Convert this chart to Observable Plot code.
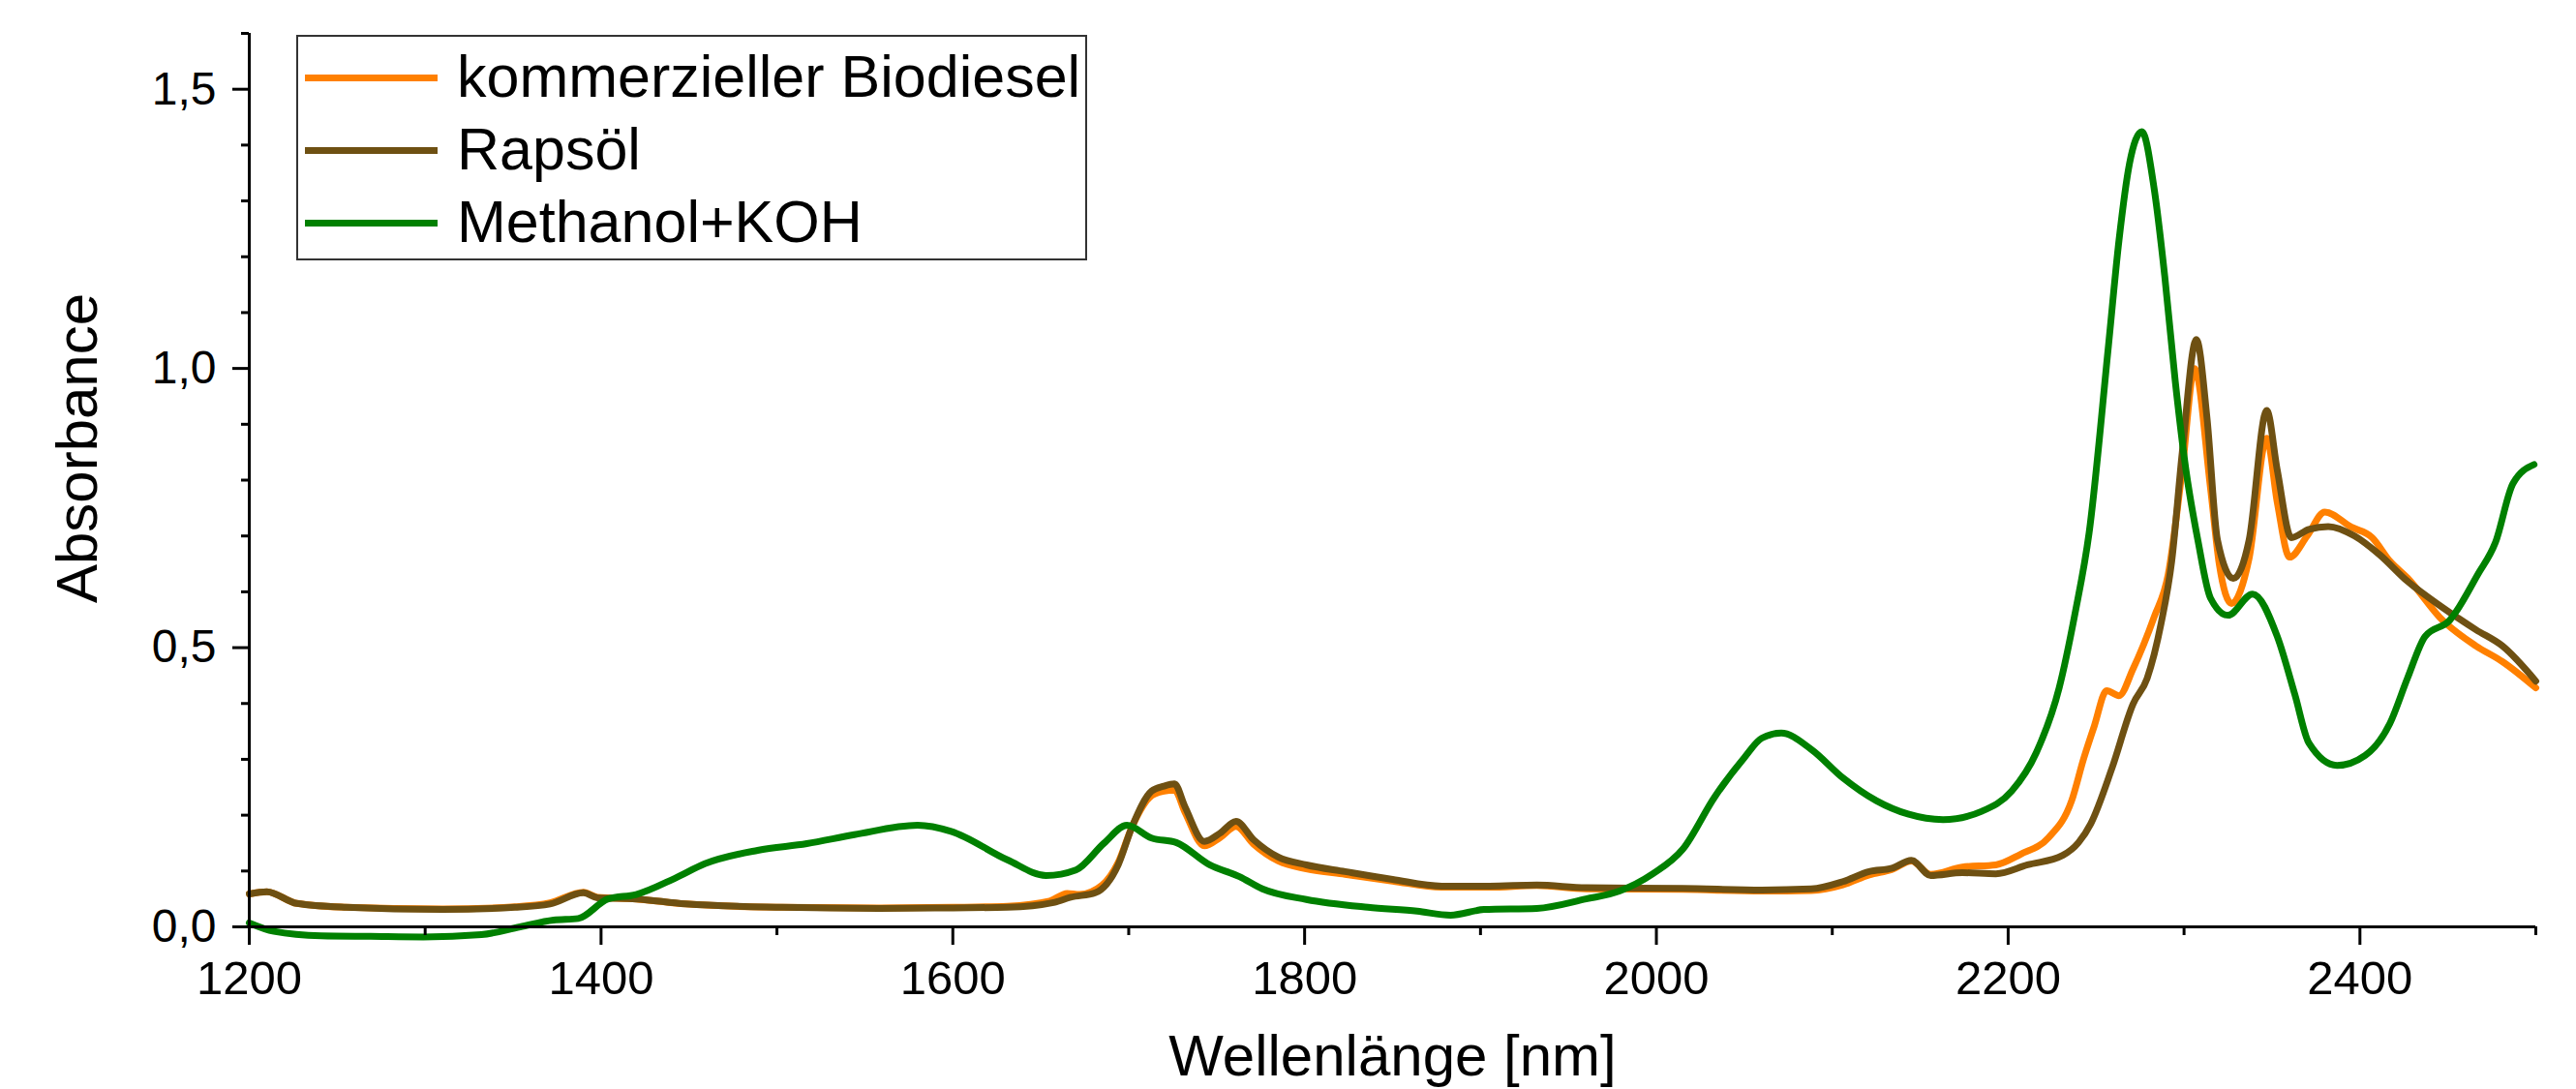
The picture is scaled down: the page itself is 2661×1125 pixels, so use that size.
<!DOCTYPE html>
<html>
<head>
<meta charset="utf-8">
<script src="https://cdn.jsdelivr.net/npm/d3@7"></script>
<script src="https://cdn.jsdelivr.net/npm/@observablehq/plot@0.6"></script>
<style>
  html, body { margin: 0; padding: 0; background: #fff; }
  #wrap { position: relative; width: 2661px; height: 1125px; font-family: "Liberation Sans", Arial, sans-serif; }
  #legend { position: absolute; left: 306px; top: 36px; width: 817px; height: 233px; border: 2px solid #333; box-sizing: border-box; background: #fff; }
  .row { position: absolute; left: 7px; height: 10px; }
  .row .sw { position: absolute; left: 0; top: -3px; width: 137px; height: 7px; }
  .row .lab { position: absolute; left: 157px; top: -36px; font-size: 61px; line-height: 70px; white-space: nowrap; color: #000; }
</style>
</head>
<body>
<div id="wrap"></div>
<script>
// ---- data ----
const seriesNames = ["kommerzieller Biodiesel", "Rapsöl", "Methanol+KOH"];
const seriesColors = ["#FF8000", "#6E5012", "#008000"];

const wlBiodiesel = [1200,1210,1227,1255,1310,1351,1371,1390,1398,1420,1448,1503,1558,1600,1631,1655,1665,1672,1685,1694,1702,1713,1720,1726,1732,1743,1752,1761,1771,1785,1801,1823,1850,1878,1905,1932,1960,2015,2060,2088,2106,2121,2134,2145,2156,2174,2193,2207,2223,2236,2243,2249,2256,2263,2271,2283,2291,2299,2306,2315,2320,2327,2337,2347,2353,2360,2370,2380,2395,2407,2417,2427,2447,2466,2481,2500];
const absBiodiesel = [0.059,0.063,0.042,0.035,0.032,0.036,0.043,0.062,0.053,0.050,0.041,0.035,0.034,0.035,0.037,0.046,0.060,0.058,0.075,0.115,0.180,0.235,0.243,0.245,0.205,0.145,0.160,0.180,0.148,0.118,0.104,0.094,0.082,0.071,0.071,0.074,0.068,0.067,0.064,0.065,0.075,0.093,0.103,0.118,0.094,0.107,0.111,0.130,0.160,0.225,0.302,0.360,0.423,0.414,0.462,0.555,0.631,0.820,1.000,0.787,0.650,0.579,0.660,0.875,0.760,0.662,0.700,0.743,0.716,0.697,0.655,0.625,0.549,0.503,0.475,0.428];

const wlRapsoel = [1200,1210,1227,1255,1310,1351,1371,1390,1398,1420,1448,1503,1558,1600,1631,1658,1667,1681,1694,1702,1713,1720,1726,1732,1743,1752,1761,1771,1785,1801,1823,1850,1878,1905,1932,1960,2015,2060,2088,2106,2121,2134,2145,2156,2174,2193,2211,2231,2240,2247,2259,2271,2279,2287,2293,2299,2307,2313,2319,2328,2337,2347,2353,2361,2371,2382,2397,2411,2427,2447,2466,2481,2500];
const absRapsoel = [0.059,0.063,0.042,0.035,0.031,0.035,0.041,0.061,0.052,0.050,0.041,0.035,0.033,0.034,0.035,0.044,0.053,0.061,0.111,0.180,0.243,0.252,0.256,0.215,0.153,0.168,0.189,0.156,0.125,0.111,0.099,0.085,0.073,0.073,0.075,0.070,0.069,0.066,0.068,0.081,0.099,0.105,0.119,0.092,0.097,0.095,0.111,0.128,0.151,0.185,0.284,0.399,0.445,0.544,0.655,0.850,1.052,0.913,0.693,0.624,0.693,0.925,0.818,0.697,0.712,0.717,0.700,0.667,0.619,0.572,0.532,0.503,0.440];

const wlMethanol = [1200,1214,1241,1269,1299,1332,1354,1373,1387,1404,1420,1442,1459,1489,1517,1544,1580,1599,1631,1653,1670,1686,1699,1713,1727,1746,1763,1776,1801,1836,1864,1883,1902,1932,1960,1979,1998,2015,2033,2050,2060,2071,2088,2106,2125,2143,2163,2185,2202,2216,2229,2238,2246,2257,2263,2269,2276,2283,2289,2295,2301,2308,2315,2325,2339,2353,2363,2371,2387,2403,2417,2427,2437,2451,2467,2477,2487,2499];
const absMethanol = [0.007,-0.008,-0.016,-0.017,-0.018,-0.014,0.000,0.012,0.015,0.050,0.058,0.087,0.113,0.137,0.149,0.165,0.182,0.171,0.120,0.092,0.102,0.150,0.182,0.159,0.151,0.111,0.090,0.068,0.049,0.035,0.028,0.021,0.031,0.033,0.050,0.064,0.095,0.139,0.232,0.303,0.338,0.347,0.318,0.267,0.226,0.202,0.192,0.207,0.243,0.312,0.428,0.561,0.705,1.040,1.229,1.367,1.424,1.322,1.166,0.977,0.820,0.690,0.589,0.558,0.596,0.520,0.416,0.329,0.289,0.307,0.364,0.445,0.520,0.549,0.631,0.688,0.794,0.828];

const xDomain = [1200, 2500];
const yDomain = [0, 1.6];
const xMajorTicks = [1200, 1400, 1600, 1800, 2000, 2200, 2400];
const xMinorTicks = [1300, 1500, 1700, 1900, 2100, 2300, 2500];
const yMajorTicks = [0, 0.5, 1.0, 1.5];
const yMinorTicks = [0.1, 0.2, 0.3, 0.4, 0.6, 0.7, 0.8, 0.9, 1.1, 1.2, 1.3, 1.4, 1.6];
const xLabel = "Wellenlänge [nm]";
const yLabel = "Absorbance";

// ---- build tables ----
const toRows = (wl, a) => wl.map((w, i) => ({wl: w, a: a[i]}));
const seriesRows = [
  toRows(wlBiodiesel, absBiodiesel),
  toRows(wlRapsoel, absRapsoel),
  toRows(wlMethanol, absMethanol)
];

const fmt = d => d.toFixed(1).replace(".", ",");

const chart = Plot.plot({
  width: 2661,
  height: 1125,
  marginLeft: 257,
  marginRight: 42,
  marginTop: 34,
  marginBottom: 168,
  style: {fontFamily: "'Liberation Sans', Arial, sans-serif", color: "#000", background: "#fff"},
  x: {domain: xDomain},
  y: {domain: yDomain},
  marks: [
    // data lines
    ...seriesRows.map((rows, i) => Plot.line(rows, {x: "wl", y: "a", stroke: seriesColors[i], strokeWidth: 7, curve: "monotone-x"})),
    // axes
    Plot.ruleY([yDomain[0]], {stroke: "#000", strokeWidth: 3}),
    Plot.ruleX([xDomain[0]], {y1: yDomain[0], y2: yDomain[1], stroke: "#000", strokeWidth: 3}),
    Plot.axisX({ticks: xMajorTicks, tickSize: 19, tickPadding: 16, tickFormat: d => String(d), fontSize: 49, label: null, strokeWidth: 3}),
    Plot.axisX({ticks: xMinorTicks, tickSize: 9, tickFormat: () => "", label: null, strokeWidth: 3}),
    Plot.axisY({ticks: yMajorTicks, tickSize: 17, tickPadding: 17, tickFormat: fmt, fontSize: 48, label: null, strokeWidth: 3}),
    Plot.axisY({ticks: yMinorTicks, tickSize: 8, tickFormat: () => "", label: null, strokeWidth: 3}),
    // axis titles
    Plot.text([xLabel], {text: d => d, frameAnchor: "bottom", dy: 134, fontSize: 60, textAnchor: "middle", lineAnchor: "middle"}),
    Plot.text([yLabel], {text: d => d, frameAnchor: "left", rotate: -90, dx: -177, dy: -33, fontSize: 60, textAnchor: "middle", lineAnchor: "middle"})
  ]
});

const wrap = document.getElementById("wrap");
wrap.appendChild(chart);

// legend (HTML overlay inside the plot area)
const legend = document.createElement("div");
legend.id = "legend";
const rowTops = [42, 117, 192];
seriesNames.forEach((name, i) => {
  const row = document.createElement("div");
  row.className = "row";
  row.style.top = rowTops[i] + "px";
  const sw = document.createElement("div");
  sw.className = "sw";
  sw.style.background = seriesColors[i];
  const lab = document.createElement("div");
  lab.className = "lab";
  lab.textContent = name;
  row.appendChild(sw);
  row.appendChild(lab);
  legend.appendChild(row);
});
wrap.appendChild(legend);
</script>
</body>
</html>
